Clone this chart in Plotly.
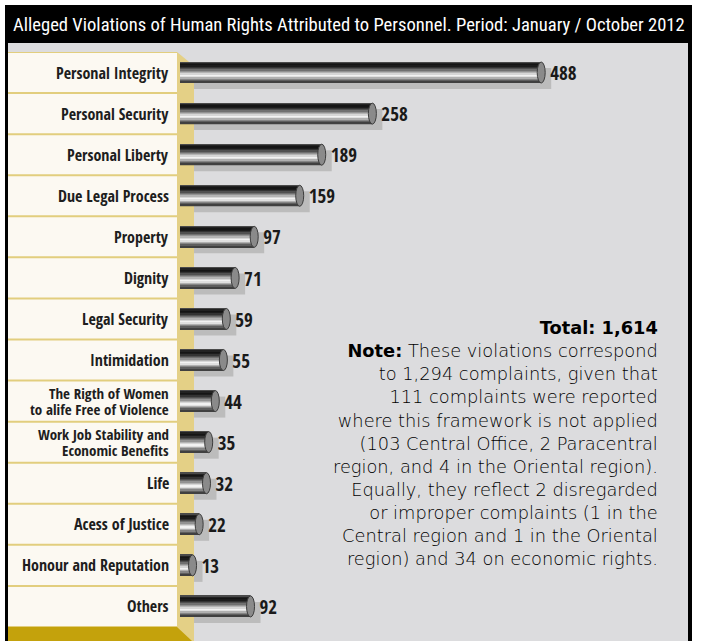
import plotly.graph_objects as go

categories = ["Personal Integrity", "Personal Security", "Personal Liberty", "Due Legal Process",
              "Property", "Dignity", "Legal Security", "Intimidation",
              "The Rigth of Women<br>to alife Free of Violence",
              "Work Job Stability and<br>Economic Benefits",
              "Life", "Acess of Justice", "Honour and Reputation", "Others"]
values = [488, 258, 189, 159, 97, 71, 59, 55, 44, 35, 32, 22, 13, 92]
value_labels = [str(v) for v in values]
title_text = "Alleged Violations of Human Rights Attributed to Personnel. Period: January / October 2012"
note_lines = ["<b>Total: 1,614</b>",
              "<b>Note:</b> These violations correspond",
              "to 1,294 complaints, given that",
              "111 complaints were reported",
              "where this framework is not applied",
              "(103 Central Office, 2 Paracentral",
              "region, and 4 in the Oriental region).",
              "Equally, they reflect 2 disregarded",
              "or improper complaints (1 in the",
              "Central region and 1 in the Oriental",
              "region) and 34 on economic rights."]

W, H = 702, 641
ZERO_PX, SCALE = 183.0, 0.734          # px position of 0 and px per unit
X_LEFT_PX, X_RIGHT_PX = 177.0, 688.0
ROW_TOP, ROW_PITCH = 52.0, 41.07
N = len(categories)
COND = "Open Sans Condensed, Roboto Condensed, DejaVu Sans Condensed"

def X(px):
    return (px - ZERO_PX) / SCALE

def PX(px):
    return px / W

def PY(py):
    return 1 - py / H

def Y(py):
    return (py - ROW_TOP) / ROW_PITCH - 0.5

idx = list(range(N))
bar_h = 21.0 / ROW_PITCH
grad = ["#4a4a4a", "#222222", "#151515", "#1c1c1c", "#333333", "#505050", "#707070",
        "#929292", "#b4b4b4", "#d6d6d6", "#f2f2f2", "#e0e0e0", "#b0b0b0", "#858585",
        "#5e5e5e", "#404040"]
ns = len(grad)
sw = bar_h / ns

fig = go.Figure()

# shadows
shadow_dy = 6.0 / ROW_PITCH
strip_right = X(194)
fig.add_trace(go.Bar(
    y=idx, x=[v + 10 / SCALE - strip_right for v in values], base=strip_right,
    orientation="h", width=bar_h, offset=-bar_h / 2 + shadow_dy,
    marker=dict(color="#bcbcbc", line=dict(width=0)), hoverinfo="skip", showlegend=False))

# cylinder stripes
bar_base = X(180)
for k, c in enumerate(grad):
    fig.add_trace(go.Bar(
        y=idx, x=[v - bar_base for v in values], base=bar_base,
        orientation="h", width=sw * 1.05, offset=-bar_h / 2 + k * sw,
        marker=dict(color=c, line=dict(width=0)), hoverinfo="skip", showlegend=False))

# value labels
fig.add_trace(go.Scatter(
    y=[i + 0.07 for i in idx], x=[v + 9 / SCALE for v in values], mode="text",
    text=value_labels, textposition="middle right",
    textfont=dict(family=COND, size=19, color="#1a1a1a", weight="bold"),
    hoverinfo="skip", showlegend=False, cliponaxis=False))

shapes = []
# grey background and frame (paper, below)
shapes.append(dict(type="rect", xref="paper", yref="paper", x0=PX(8), x1=PX(688), y0=PY(641), y1=PY(43),
                   fillcolor="#dcdcde", line=dict(width=0), layer="below"))
shapes.append(dict(type="rect", xref="paper", yref="paper", x0=PX(5), x1=PX(692), y0=PY(43), y1=PY(5),
                   fillcolor="#000000", line=dict(width=0), layer="below"))
shapes.append(dict(type="rect", xref="paper", yref="paper", x0=PX(5), x1=PX(8), y0=PY(641), y1=PY(43),
                   fillcolor="#000000", line=dict(width=0), layer="below"))
shapes.append(dict(type="rect", xref="paper", yref="paper", x0=PX(688), x1=PX(692), y0=PY(641), y1=PY(43),
                   fillcolor="#000000", line=dict(width=0), layer="below"))
# cream panel
shapes.append(dict(type="rect", xref="paper", yref="paper", x0=PX(8), x1=PX(177), y0=PY(627), y1=PY(52),
                   fillcolor="#fcf9f2", line=dict(width=0), layer="below"))
# gold strip (data ref, below traces)
shapes.append(dict(type="path", xref="x", yref="y",
                   path=f"M {X(177)},{Y(52)} L {X(194)},{Y(66)} L {X(194)},{Y(641)} L {X(177)},{Y(641)} Z",
                   fillcolor="#e4d086", line=dict(width=0), layer="below"))
# row separators
for k in range(N + 1):
    yy = k - 0.5
    shapes.append(dict(type="line", xref="paper", yref="y", x0=PX(8), x1=PX(177), y0=yy, y1=yy,
                       line=dict(color="#e2ce7e", width=2), layer="above"))
# dark gold band
shapes.append(dict(type="path", xref="paper", yref="paper",
                   path=f"M {PX(8)},{PY(627)} L {PX(177)},{PY(627)} L {PX(192)},{PY(641)} L {PX(8)},{PY(641)} Z",
                   fillcolor="#c4a20c", line=dict(width=0), layer="above"))
# cylinder end caps
cap_hw = 4.0 / SCALE
for i, v in enumerate(values):
    shapes.append(dict(type="circle", xref="x", yref="y", x0=v - cap_hw, x1=v + cap_hw,
                       y0=i - bar_h / 2, y1=i + bar_h / 2,
                       fillcolor="#8a8a8a", line=dict(color="#3c3c3c", width=1), layer="above"))

annotations = []
annotations.append(dict(xref="paper", yref="paper", x=PX(349), y=PY(25), text=title_text,
                        showarrow=False, xanchor="center", yanchor="middle",
                        font=dict(family="Roboto Condensed, DejaVu Sans Condensed", size=18.6, color="#ffffff")))
line_dy = 8.0 / ROW_PITCH
for i, c in enumerate(categories):
    parts = c.split("<br>")
    if len(parts) == 1:
        annotations.append(dict(xref="paper", yref="y", x=PX(171), y=i, text=c,
                                showarrow=False, xanchor="right", yanchor="middle",
                                font=dict(family=COND, size=16, color="#1e1e1e", weight="bold")))
    else:
        for j, p in enumerate(parts):
            annotations.append(dict(xref="paper", yref="y", x=PX(171), y=i + (2 * j - 1) * line_dy, text=p,
                                    showarrow=False, xanchor="right", yanchor="middle",
                                    font=dict(family=COND, size=15, color="#1e1e1e", weight="bold")))
annotations.append(dict(xref="paper", yref="paper", x=PX(660), y=PY(443), text="<br>".join(note_lines),
                        showarrow=False, xanchor="right", yanchor="middle", align="right",
                        font=dict(family="DejaVu Sans, Open Sans, sans-serif", size=17.8,
                                  color="#000000", weight=300)))

fig.update_layout(
    width=W, height=H, margin=dict(l=0, r=0, t=0, b=0),
    paper_bgcolor="#ffffff", plot_bgcolor="rgba(0,0,0,0)",
    barmode="overlay", showlegend=False,
    xaxis=dict(domain=[PX(X_LEFT_PX), PX(X_RIGHT_PX)], range=[X(X_LEFT_PX), X(X_RIGHT_PX)],
               visible=False, fixedrange=True),
    yaxis=dict(domain=[0, PY(ROW_TOP)], range=[Y(641), Y(ROW_TOP)],
               visible=False, fixedrange=True),
    shapes=shapes, annotations=annotations,
)

fig.write_html("out.html", config={"displayModeBar": False},
               post_script="document.body.style.margin='0';")
